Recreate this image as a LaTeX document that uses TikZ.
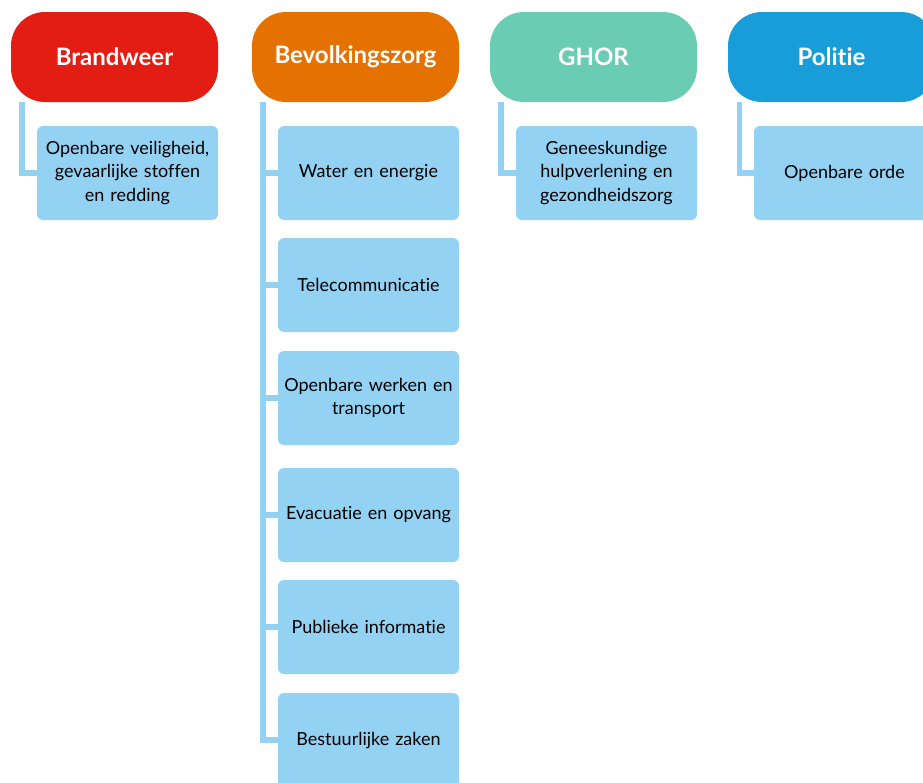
\documentclass[tikz,border=0pt]{standalone}
\usepackage{fontspec}
\setmainfont{Lato}[Ligatures=CommonOff]
\usetikzlibrary{backgrounds}
\definecolor{brandrood}{HTML}{E31D13}
\definecolor{bevoranje}{HTML}{E57200}
\definecolor{ghorgroen}{HTML}{6ACCB2}
\definecolor{politieblauw}{HTML}{199DD9}
\definecolor{taakblauw}{HTML}{94D2F3}

\begin{document}
\begin{tikzpicture}[x=1pt,y=-1pt,
		head/.style={rounded corners=34pt, minimum width=207pt, minimum height=90pt,
			inner sep=0pt, text=white, font=\fontsize{24}{28}\selectfont\bfseries},
		task/.style={fill=taakblauw, rounded corners=6pt, minimum width=181pt,
			minimum height=94pt, inner sep=0pt, text width=179pt, align=center,
			font=\fontsize{18}{23.5}\selectfont},
		link/.style={draw=taakblauw, line width=5.5pt}]
		\useasboundingbox (0,0) rectangle (923,782);
		\clip (0,0) rectangle (923,782);
		
		% Four column heads
		\node[head, fill=brandrood]    (brw) at (114.5,57) {Brandweer};
		\node[head, fill=bevoranje]    (bvz) at (355.5,57) {Bevolkingszorg};
		\node[head, fill=ghorgroen]    (ghor) at (593.5,57) {GHOR};
		\node[head, fill=politieblauw] (pol) at (831.5,57) {Politie};
		
		% Tasks below each head
		\node[task] (brw1)  at (127.5,173) {Openbare veiligheid,\\ gevaarlijke stoffen\\ en redding};
		\node[task] (ghor1) at (606.5,173) {Geneeskundige\\ hulpverlening en\\ gezondheidszorg};
		\node[task] (pol1)  at (844.5,173) {Openbare orde};
		
		\foreach \y/\taak [count=\i] in {173/Water en energie, 285/Telecommunicatie,
			398/{Openbare werken en\\ transport}, 515/Evacuatie en opvang,
			627/Publieke informatie, 740/Bestuurlijke zaken}
		\node[task] (bvz\i) at (368.5,\y) {\taak};
		
		% Lines from each head to its tasks
		\begin{scope}[on background layer]
			\draw[link] ([xshift=11pt]brw.south west) |- (brw1.west);
			\draw[link] ([xshift=11pt]ghor.south west) |- (ghor1.west);
			\draw[link] ([xshift=11.5pt]pol.south west) |- (pol1.west);
			\foreach \i in {1,...,6}
			\draw[link] ([xshift=11pt]bvz.south west) |- (bvz\i.west);
		\end{scope}
		
	\end{tikzpicture}
\end{document}
